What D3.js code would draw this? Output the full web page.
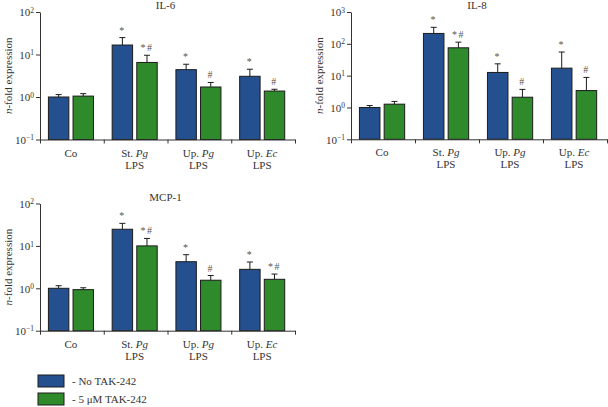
<!DOCTYPE html>
<html>
<head>
<meta charset="utf-8">
<script src="https://cdn.jsdelivr.net/npm/d3@7"></script>
<style>
  body { margin: 0; background: #fff; }
  svg { display: block; }
  text { font-family: "Liberation Serif", "Times New Roman", serif; }
</style>
</head>
<body>
<svg id="chart" width="608" height="407"></svg>
<script>
const BLUE = "#25508f";
const GREEN = "#2f8a2b";
const OUTLINE = "#1c1c1c";

// group labels: plain prefix, italic part, second line
const groupPrefix = ["Co", "St.", "Up.", "Up."];
const groupItalic = ["", "Pg", "Pg", "Ec"];
const groupLine2 = ["", "LPS", "LPS", "LPS"];
const seriesNames = ["- No TAK-242", "- 5 \u03bcM TAK-242"];

// mean values and upper sd, per panel
const il6NoTak = [1.0, 16.7, 4.4, 3.07];
const il6NoTakSd = [0.14, 8.3, 1.5, 1.43];
const il6Tak = [1.05, 6.5, 1.72, 1.38];
const il6TakSd = [0.15, 3.1, 0.48, 0.14];
const il6Marks = [["", ""], ["*", "*#"], ["*", "#"], ["*", "#"]];

const il8NoTak = [1.0, 212, 12.6, 17.2];
const il8NoTakSd = [0.15, 118, 10.9, 38];
const il8Tak = [1.27, 75, 2.1, 3.4];
const il8TakSd = [0.28, 38, 1.6, 5.4];
const il8Marks = [["", ""], ["*", "*#"], ["*", "#"], ["*", "#"]];

const mcpNoTak = [1.0, 24.7, 4.24, 2.8];
const mcpNoTakSd = [0.15, 9.3, 1.96, 1.37];
const mcpTak = [0.93, 10, 1.55, 1.63];
const mcpTakSd = [0.1, 5, 0.45, 0.54];
const mcpMarks = [["", ""], ["*", "*#"], ["*", "#"], ["*", "*#"]];

const svg = d3.select("#chart");

function drawPanel({ title, left, top, width, height, maxExp, noTak, noTakSd, tak, takSd, marks }) {
  const g = svg.append("g").attr("transform", `translate(${left},${top})`);

  const y = d3.scaleLog().domain([0.1, Math.pow(10, maxExp)]).range([height, 0]);
  const x = d3.scaleBand().domain(d3.range(groupPrefix.length)).range([0, width]);
  const inner = d3.scaleBand().domain([0, 1]).range([0, x.bandwidth()])
    .paddingInner(0.17).paddingOuter(0.38).align(0.45);
  const xLin = d3.scaleLinear().domain([0, groupPrefix.length]).range([0, width]);

  const rows = [];
  groupPrefix.forEach((_, i) => {
    rows.push({ g: i, s: 0, v: noTak[i], sd: noTakSd[i], mark: marks[i][0] });
    rows.push({ g: i, s: 1, v: tak[i], sd: takSd[i], mark: marks[i][1] });
  });

  // bars
  g.selectAll("rect.bar").data(rows).join("rect")
    .attr("class", "bar")
    .attr("x", (d) => x(d.g) + inner(d.s))
    .attr("y", (d) => y(d.v))
    .attr("width", inner.bandwidth())
    .attr("height", (d) => height - y(d.v))
    .attr("fill", (d) => (d.s === 0 ? BLUE : GREEN))
    .attr("stroke", OUTLINE)
    .attr("stroke-width", 1);

  // upper error bars
  const cx = (d) => x(d.g) + inner(d.s) + inner.bandwidth() / 2;
  g.selectAll("line.err").data(rows).join("line")
    .attr("class", "err")
    .attr("x1", cx).attr("x2", cx)
    .attr("y1", (d) => y(d.v)).attr("y2", (d) => y(d.v + d.sd))
    .attr("stroke", OUTLINE).attr("stroke-width", 1);
  g.selectAll("line.cap").data(rows).join("line")
    .attr("class", "cap")
    .attr("x1", (d) => cx(d) - 3).attr("x2", (d) => cx(d) + 3)
    .attr("y1", (d) => y(d.v + d.sd)).attr("y2", (d) => y(d.v + d.sd))
    .attr("stroke", OUTLINE).attr("stroke-width", 1);

  // significance marks
  g.selectAll("text.mark").data(rows.filter((d) => d.mark)).join("text")
    .attr("class", "mark")
    .attr("x", cx)
    .attr("y", (d) => y(d.v + d.sd) - 4)
    .attr("text-anchor", "middle")
    .attr("font-size", 10)
    .attr("letter-spacing", 1.5)
    .attr("fill", "#555")
    .text((d) => d.mark);

  // y axis with 10^n labels
  const yAxis = g.append("g")
    .call(d3.axisLeft(y).tickValues(d3.range(-1, maxExp + 1).map((e) => Math.pow(10, e)))
      .tickSize(4).tickSizeOuter(0).tickFormat(""));
  yAxis.attr("font-family", null);
  yAxis.selectAll(".tick text").each(function (d) {
    const t = d3.select(this).attr("font-size", 11).attr("fill", "#333").attr("x", -6).attr("dy", "0.35em");
    t.append("tspan").text("10");
    t.append("tspan").attr("dy", "-0.5em").attr("font-size", 7.5)
      .text(String(Math.round(Math.log10(d))).replace("-", "\u2212"));
  });
  yAxis.selectAll("path, line").attr("stroke", "#333");

  // x axis: ticks at group boundaries
  const xAxis = g.append("g").attr("transform", `translate(0,${height})`)
    .call(d3.axisBottom(xLin).tickValues(d3.range(groupPrefix.length + 1))
      .tickSize(4).tickSizeOuter(0).tickFormat(""));
  xAxis.selectAll("path, line").attr("stroke", "#333");

  const labels = g.append("g").attr("font-size", 11).attr("fill", "#333").attr("text-anchor", "middle");
  groupPrefix.forEach((p, i) => {
    const lx = x(i) + x.bandwidth() / 2 - 1;
    const t1 = labels.append("text").attr("x", lx).attr("y", height + 17);
    t1.append("tspan").text(p);
    if (groupItalic[i]) t1.append("tspan").attr("font-style", "italic").text(" " + groupItalic[i]);
    if (groupLine2[i]) labels.append("text").attr("x", lx).attr("y", height + 29).text(groupLine2[i]);
  });

  // title
  g.append("text").attr("x", width / 2 - 2).attr("y", -3)
    .attr("text-anchor", "middle").attr("font-size", 11).attr("fill", "#333").text(title);

  // y label
  const yl = g.append("text")
    .attr("transform", `translate(-28,${height / 2}) rotate(-90)`)
    .attr("text-anchor", "middle").attr("font-size", 11).attr("fill", "#333");
  yl.append("tspan").attr("font-style", "italic").text("n");
  yl.append("tspan").text("-fold expression");
}

drawPanel({ title: "IL-6", left: 40, top: 12, width: 255, height: 127.5, maxExp: 2,
  noTak: il6NoTak, noTakSd: il6NoTakSd, tak: il6Tak, takSd: il6TakSd, marks: il6Marks });
drawPanel({ title: "IL-8", left: 351, top: 12, width: 256, height: 127.3, maxExp: 3,
  noTak: il8NoTak, noTakSd: il8NoTakSd, tak: il8Tak, takSd: il8TakSd, marks: il8Marks });
drawPanel({ title: "MCP-1", left: 40, top: 203.5, width: 255, height: 127.2, maxExp: 2,
  noTak: mcpNoTak, noTakSd: mcpNoTakSd, tak: mcpTak, takSd: mcpTakSd, marks: mcpMarks });

// legend
const legend = svg.append("g").attr("transform", "translate(38,375)");
seriesNames.forEach((name, i) => {
  const row = legend.append("g").attr("transform", `translate(0,${i * 18})`);
  row.append("rect").attr("width", 26).attr("height", 12)
    .attr("fill", i === 0 ? BLUE : GREEN).attr("stroke", OUTLINE).attr("stroke-width", 1);
  row.append("text").attr("x", 34).attr("y", 10).attr("font-size", 11).attr("fill", "#333").text(name);
});
</script>
</body>
</html>
